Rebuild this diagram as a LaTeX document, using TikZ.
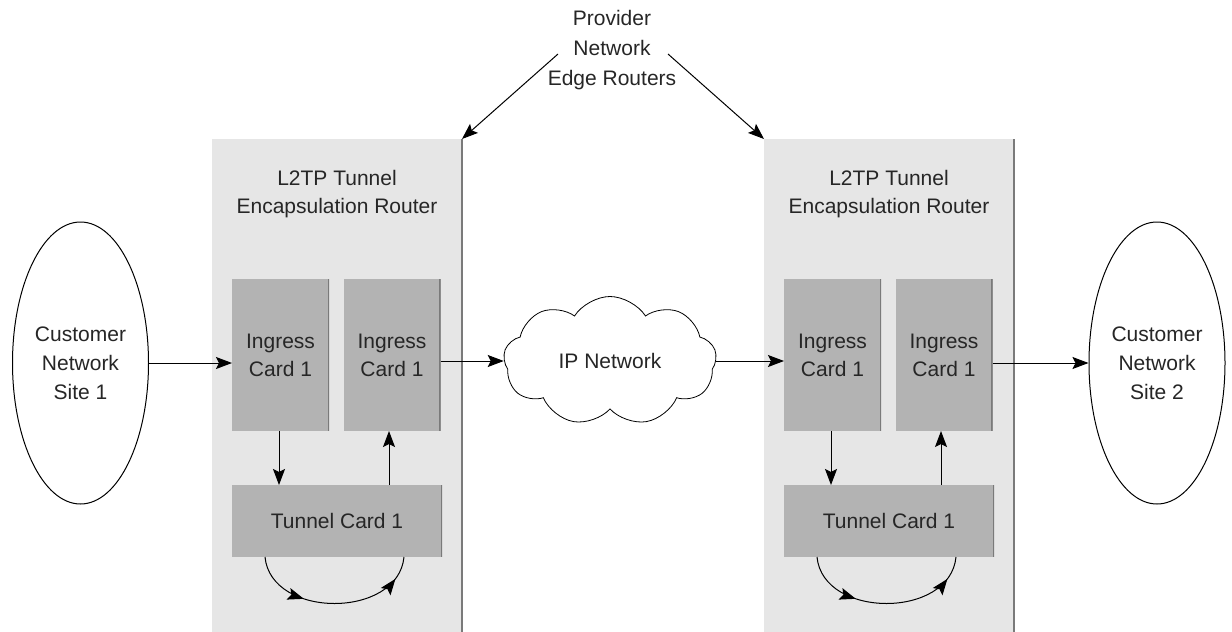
\documentclass[tikz,border=0pt]{standalone}
\usepackage{fontspec}
\setmainfont{Liberation Sans}
\usetikzlibrary{arrows.meta,shapes.geometric,shapes.symbols,decorations.markings,calc}
\definecolor{panelgray}{HTML}{E6E6E6}
\definecolor{cardgray}{HTML}{B3B3B3}
\definecolor{edgegray}{HTML}{7A7A7A}
\definecolor{inkgray}{HTML}{262626}
\begin{document}
\begin{tikzpicture}[x=1pt,y=-1pt,
  font=\fontsize{21}{28}\selectfont, text=inkgray,
  arr/.style={-{Stealth[length=16pt,width=12pt,inset=3pt]}, line width=1pt, draw=black},
  panel/.style={fill=panelgray, draw=none, minimum width=250, minimum height=493,
    inner sep=0, outer sep=0, anchor=north west},
  card/.style={fill=cardgray, draw=none, inner sep=0, outer sep=0, align=center,
    path picture={\draw[edgegray, line width=3pt]
      (path picture bounding box.north east) -- (path picture bounding box.south east);}},
  ingress/.style={card, minimum width=97, minimum height=152},
  tunnel/.style={card, minimum width=210, minimum height=72},
  site/.style={ellipse, draw, line width=1pt, fill=white, minimum width=136,
    minimum height=282, inner sep=0, align=center, font=\fontsize{21}{29}\selectfont},
  looparr/.style={line width=1pt, postaction=decorate, decoration={markings,
    mark=at position 0.33 with {\arrow{Stealth[length=16pt,width=12pt,inset=3pt]}},
    mark=at position 0.87 with {\arrow{Stealth[length=16pt,width=12pt,inset=3pt]}}}}
]
\useasboundingbox (0,0) rectangle (1232,632);

% router panels with their shaded right edge
\node[panel] (rtrL) at (212,139) {};
\node[panel] (rtrR) at (764,139) {};
\draw[edgegray, line width=2.5pt] (rtrL.north east) -- (rtrL.south east);
\draw[edgegray, line width=2.5pt] (rtrR.north east) -- (rtrR.south east);

% router titles
\node[align=center] (titleL) at (337,194) {L2TP Tunnel\\Encapsulation Router};
\node[align=center] (titleR) at (889,194) {L2TP Tunnel\\Encapsulation Router};

% line cards
\node[ingress] (inAL) at (280.5,355) {Ingress\\Card 1};
\node[ingress] (inBL) at (392,355) {Ingress\\Card 1};
\node[tunnel] (tunL) at (337,521) {Tunnel Card 1};
\node[ingress] (inAR) at (832.5,355) {Ingress\\Card 1};
\node[ingress] (inBR) at (944,355) {Ingress\\Card 1};
\node[tunnel] (tunR) at (889,521) {Tunnel Card 1};

% customer sites and the core network
\node[site] (siteL) at (80.5,363) {Customer\\Network\\Site 1};
\node[site] (siteR) at (1157,363) {Customer\\Network\\Site 2};
\node[cloud, cloud puffs=9, cloud puff arc=115, aspect=1.65, draw, fill=white,
  line width=0.8pt, minimum width=213, minimum height=129, inner sep=0] (ipnet) at (610,361) {IP Network};

% label for the edge routers
\node[align=center, font=\fontsize{21}{30}\selectfont] (prov) at (612,50) {Provider\\Network\\Edge Routers};
\coordinate (provL) at (558,54);
\coordinate (provR) at (668,54);
\draw[arr] (provL) -- (rtrL.north east);
\draw[arr] (provR) -- (rtrR.north west);

% traffic path, left router
\draw[arr] (siteL.east) -- (siteL.east -| inAL.west);
\draw[arr] ([xshift=-1.5pt]inAL.south) -- ([xshift=-1.5pt]inAL.south |- tunL.north);
\draw[arr] ([xshift=-3pt]inBL.south |- tunL.north) -- ([xshift=-3pt]inBL.south);
\draw[looparr] ($(tunL.south west)+(33,0)$) .. controls +(6,62) and +(-6,62) .. ($(tunL.south east)+(-38,0)$);
\draw[arr] (inBL.east |- ipnet.west) -- (ipnet.west);

% traffic path, right router
\draw[arr] (ipnet.east) -- (ipnet.east -| inAR.west);
\draw[arr] ([xshift=-1.5pt]inAR.south) -- ([xshift=-1.5pt]inAR.south |- tunR.north);
\draw[arr] ([xshift=-3pt]inBR.south |- tunR.north) -- ([xshift=-3pt]inBR.south);
\draw[looparr] ($(tunR.south west)+(33,0)$) .. controls +(6,62) and +(-6,62) .. ($(tunR.south east)+(-38,0)$);
\draw[arr] (siteR.west -| inBR.east) -- (siteR.west);
\end{tikzpicture}
\end{document}
